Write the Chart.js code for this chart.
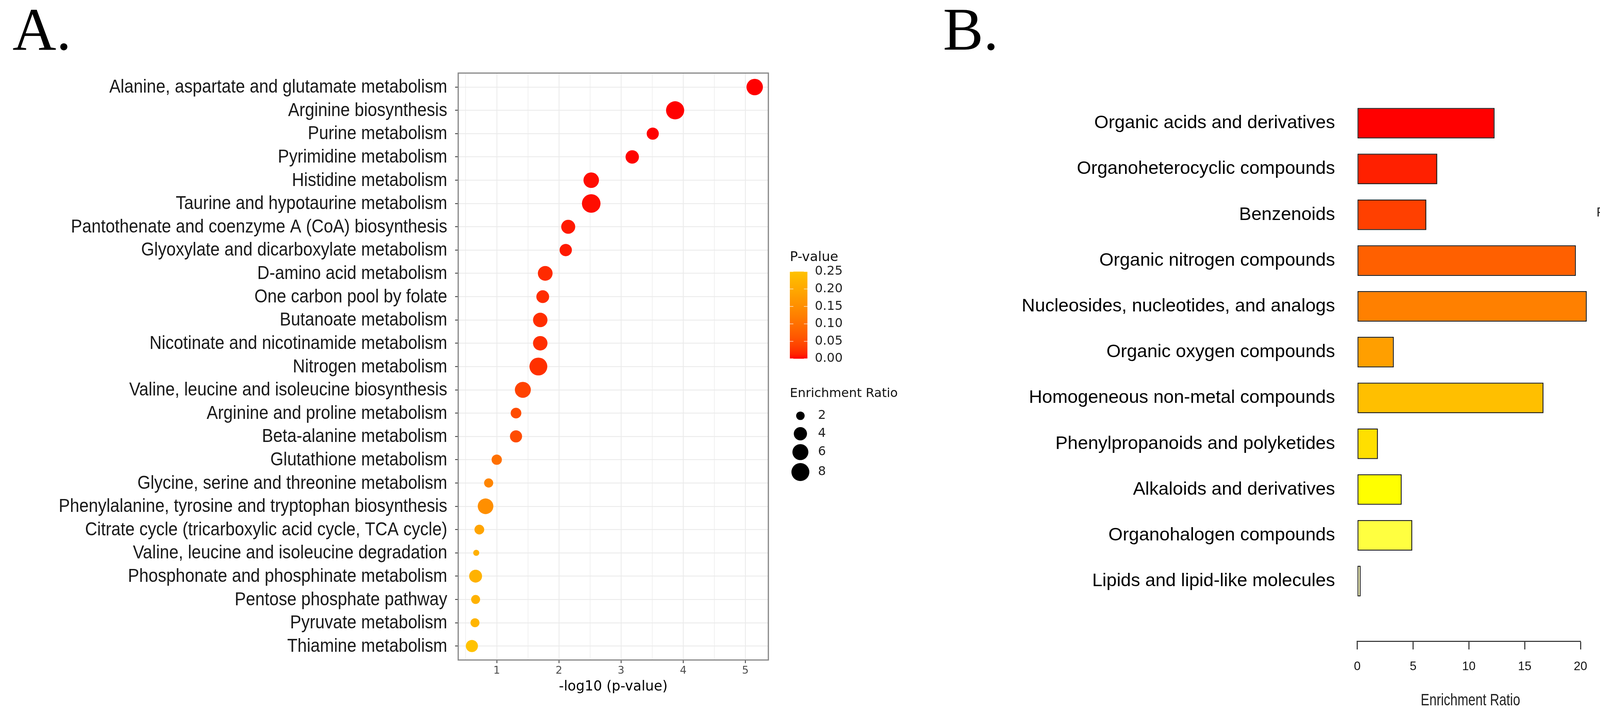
<!DOCTYPE html>
<html>
<head>
<meta charset="utf-8">
<title>Pathway and chemical class enrichment</title>
<script src="https://cdn.jsdelivr.net/npm/chart.js@4.4.1/dist/chart.umd.min.js"></script>
<style>
    body { margin: 0; background: #fff; }
    #wrap { position: relative; width: 4324px; height: 1840px; overflow: hidden; }
    canvas { position: absolute; top: 0; }
    #chartA { left: 0; }
    #chartB { left: 2400px; }
</style>
</head>
<body>
<div id="wrap">
    <canvas id="chartA" width="2400" height="1840"></canvas>
    <canvas id="chartB" width="1924" height="1840"></canvas>
</div>
<script>
// ---- panel A: pathway enrichment (dot plot) ----
const pathways = [
    'Alanine, aspartate and glutamate metabolism',
    'Arginine biosynthesis',
    'Purine metabolism',
    'Pyrimidine metabolism',
    'Histidine metabolism',
    'Taurine and hypotaurine metabolism',
    'Pantothenate and coenzyme A (CoA) biosynthesis',
    'Glyoxylate and dicarboxylate metabolism',
    'D-amino acid metabolism',
    'One carbon pool by folate',
    'Butanoate metabolism',
    'Nicotinate and nicotinamide metabolism',
    'Nitrogen metabolism',
    'Valine, leucine and isoleucine biosynthesis',
    'Arginine and proline metabolism',
    'Beta-alanine metabolism',
    'Glutathione metabolism',
    'Glycine, serine and threonine metabolism',
    'Phenylalanine, tyrosine and tryptophan biosynthesis',
    'Citrate cycle (tricarboxylic acid cycle, TCA cycle)',
    'Valine, leucine and isoleucine degradation',
    'Phosphonate and phosphinate metabolism',
    'Pentose phosphate pathway',
    'Pyruvate metabolism',
    'Thiamine metabolism'
]
const log10p = [5.15, 3.87, 3.51, 3.18, 2.52, 2.52, 2.15, 2.11, 1.78, 1.74, 1.70, 1.70, 1.67,
    1.42, 1.31, 1.31, 1.00, 0.87, 0.82, 0.72, 0.67, 0.66, 0.66, 0.65, 0.60]
const enrichment = [6.4, 8.25, 3.4, 4.1, 5.6, 8.8, 4.5, 3.5, 5.0, 3.75, 4.8, 4.8, 7.9,
    6.0, 2.75, 3.4, 2.6, 2.2, 5.7, 2.4, 1.4, 3.8, 2.15, 2.15, 3.4]
const xGridValues = [0.5, 1, 1.5, 2, 2.5, 3, 3.5, 4, 4.5, 5]
const pLegendTicks = [0.25, 0.20, 0.15, 0.10, 0.05, 0.00]
const sizeLegendValues = [2, 4, 6, 8]

// ---- panel B: chemical class enrichment (bar chart) ----
const classes = [
    'Organic acids and derivatives',
    'Organoheterocyclic compounds',
    'Benzenoids',
    'Organic nitrogen compounds',
    'Nucleosides, nucleotides, and analogs',
    'Organic oxygen compounds',
    'Homogeneous non-metal compounds',
    'Phenylpropanoids and polyketides',
    'Alkaloids and derivatives',
    'Organohalogen compounds',
    'Lipids and lipid-like molecules'
]
const classRatio = [12.3, 7.17, 6.19, 19.59, 20.56, 3.27, 16.69, 1.85, 3.98, 4.93, 0.30]
const heatColors = ['#FF0000', '#FF2000', '#FF4000', '#FF6000', '#FF8000', '#FF9F00',
    '#FFBF00', '#FFDF00', '#FFFF00', '#FFFF40', '#FFFFBF']
const pLabelsB = ['9e-50', '5e-01', '1e+00']
const ratioTicks = [0, 5, 10, 15, 20]

// colour gradient for p-values, interpolated in Lab like ggplot does
function toLab(hex) {
    const c = [1, 3, 5].map(i => parseInt(hex.substr(i, 2), 16) / 255)
        .map(v => v <= 0.04045 ? v / 12.92 : Math.pow((v + 0.055) / 1.055, 2.4))
    const X = (c[0] * 0.4124 + c[1] * 0.3576 + c[2] * 0.1805) / 0.95047
    const Y = c[0] * 0.2126 + c[1] * 0.7152 + c[2] * 0.0722
    const Z = (c[0] * 0.0193 + c[1] * 0.1192 + c[2] * 0.9505) / 1.08883
    const f = t => t > 0.008856 ? Math.cbrt(t) : 7.787 * t + 16 / 116
    return [116 * f(Y) - 16, 500 * (f(X) - f(Y)), 200 * (f(Y) - f(Z))]
}

function fromLab([L, a, b]) {
    const fy = (L + 16) / 116
    const inv = t => t * t * t > 0.008856 ? t * t * t : (t - 16 / 116) / 7.787
    const X = inv(fy + a / 500) * 0.95047
    const Y = inv(fy)
    const Z = inv(fy - b / 200) * 1.08883
    const lin = [
        X * 3.2406 - Y * 1.5372 - Z * 0.4986,
        -X * 0.9689 + Y * 1.8758 + Z * 0.0415,
        X * 0.0557 - Y * 0.2040 + Z * 1.0570
    ]
    const out = lin.map(v => {
        v = Math.min(1, Math.max(0, v))
        return Math.round(255 * (v <= 0.0031308 ? 12.92 * v : 1.055 * Math.pow(v, 1 / 2.4) - 0.055))
    })
    return `rgb(${out[0]}, ${out[1]}, ${out[2]})`
}

const lowLab = toLab('#FF0000')
const highLab = toLab('#FFC200')
const pMax = 0.25

function pColor(p) {
    const t = Math.min(1, Math.max(0, p / pMax))
    return fromLab(lowLab.map((v, i) => v + (highLab[i] - v) * t))
}

// dot diameter follows the size legend (2 -> ~22px, 8 -> ~46px)
const radiusFor = er => (21.7 + 17.5 * Math.log(er / 2)) / 2

const isInt = c => c.tick && Number.isInteger(c.tick.value)

// the original labels are set in a slightly condensed face
function narrowText(ctx, text, x, y, sx) {
    ctx.save()
    ctx.translate(x, y)
    ctx.scale(sx, 1)
    ctx.fillText(text, 0, 0)
    ctx.restore()
}

const panelA = {
    id: 'panelA',
    afterDraw(chart) {
        const { ctx, chartArea, scales } = chart
        ctx.save()
        ctx.strokeStyle = '#858585'
        ctx.lineWidth = 3
        ctx.strokeRect(chartArea.left, chartArea.top, chartArea.right - chartArea.left, chartArea.bottom - chartArea.top)

        // pathway names
        ctx.fillStyle = '#1A1A1A'
        ctx.font = '49px "Liberation Sans"'
        ctx.textAlign = 'right'
        ctx.textBaseline = 'middle'
        pathways.forEach((name, i) => {
            narrowText(ctx, name, chartArea.left - 28, scales.y.getPixelForValue(i) + 1, 0.88)
        })
        ctx.textAlign = 'left'

        ctx.fillStyle = '#000'
        ctx.font = '155px "Liberation Serif"'
        ctx.textBaseline = 'alphabetic'
        ctx.fillText('A.', 32, 127)

        // colour legend
        ctx.font = '34px "DejaVu Sans"'
        ctx.textBaseline = 'middle'
        ctx.fillStyle = '#111'
        ctx.fillText('P-value', 2022, 659)
        const barX = 2022, barW = 45, barTop = 695, barBottom = 918
        const grad = ctx.createLinearGradient(0, barTop, 0, barBottom)
        for (let k = 0; k <= 20; k++) {
            grad.addColorStop(k / 20, pColor(pMax * (1 - k / 20)))
        }
        ctx.fillStyle = grad
        ctx.fillRect(barX, barTop, barW, barBottom - barTop)
        ctx.strokeStyle = 'rgba(255,255,255,0.8)'
        ctx.lineWidth = 1.5
        ctx.font = '32px "DejaVu Sans"'
        pLegendTicks.forEach(v => {
            const y = barBottom - (barBottom - barTop) * v / pMax
            ctx.beginPath()
            ctx.moveTo(barX, y); ctx.lineTo(barX + 9, y)
            ctx.moveTo(barX + barW - 9, y); ctx.lineTo(barX + barW, y)
            ctx.stroke()
            ctx.fillStyle = '#222'
            ctx.fillText(v.toFixed(2), 2086, y)
        })

        // size legend
        ctx.fillStyle = '#111'
        ctx.fillText('Enrichment Ratio', 2022, 1008)
        const sizeY = [1064, 1110, 1157, 1208]
        sizeLegendValues.forEach((v, i) => {
            ctx.fillStyle = '#000'
            ctx.beginPath()
            ctx.arc(2049, sizeY[i], radiusFor(v), 0, Math.PI * 2)
            ctx.fill()
            ctx.fillStyle = '#222'
            ctx.fillText(String(v), 2094, sizeY[i])
        })
        ctx.restore()
    }
}

new Chart(document.getElementById('chartA'), {
    type: 'scatter',
    data: {
        datasets: [{
            data: log10p.map((x, i) => ({ x, y: i })),
            pointRadius: c => radiusFor(enrichment[c.dataIndex]),
            pointHoverRadius: c => radiusFor(enrichment[c.dataIndex]),
            pointBackgroundColor: c => pColor(Math.pow(10, -log10p[c.dataIndex])),
            pointBorderWidth: 0,
            clip: false
        }]
    },
    options: {
        responsive: false,
        animation: false,
        devicePixelRatio: 1,
        events: [],
        layout: { padding: { top: 187, right: 433, left: 0, bottom: 0 } },
        plugins: { legend: { display: false }, tooltip: { enabled: false } },
        scales: {
            x: {
                type: 'linear',
                min: 0.38,
                max: 5.37,
                afterBuildTicks: s => { s.ticks = xGridValues.map(value => ({ value })) },
                afterFit: s => { s.height = 151 },
                border: { display: false },
                grid: {
                    color: '#EBEBEB',
                    lineWidth: c => isInt(c) ? 2.2 : 1.4,
                    tickLength: 8,
                    tickWidth: 2,
                    tickColor: c => isInt(c) ? '#333' : 'rgba(0,0,0,0)'
                },
                ticks: {
                    autoSkip: false,
                    maxRotation: 0,
                    callback: v => Number.isInteger(v) ? String(v) : '',
                    font: { family: 'DejaVu Sans', size: 27 },
                    color: '#4D4D4D',
                    padding: 4
                },
                title: {
                    display: true,
                    text: '-log10 (p-value)',
                    font: { family: 'DejaVu Sans', size: 35 },
                    color: '#000',
                    padding: { top: 0, bottom: 61 }
                }
            },
            y: {
                type: 'linear',
                reverse: true,
                min: -0.6,
                max: 24.6,
                afterBuildTicks: s => { s.ticks = pathways.map((_, i) => ({ value: i })) },
                afterFit: s => { s.width = 1173 },
                border: { display: false },
                grid: { color: '#EBEBEB', lineWidth: 2.2, tickLength: 8, tickWidth: 2, tickColor: '#333' },
                ticks: { autoSkip: false, display: false }
            }
        }
    },
    plugins: [panelA]
})

const panelB = {
    id: 'panelB',
    afterDraw(chart) {
        const { ctx, chartArea } = chart
        ctx.save()
        ctx.fillStyle = '#000'
        ctx.font = '155px "Liberation Serif"'
        ctx.textBaseline = 'alphabetic'
        ctx.fillText('B.', 14, 127)

        // axis title, condensed like the original
        ctx.font = '42px "Liberation Sans"'
        ctx.textBaseline = 'middle'
        ctx.textAlign = 'center'
        ctx.fillStyle = '#222'
        narrowText(ctx, 'Enrichment Ratio', (chartArea.left + chartArea.right) / 2 + 4, 1793, 0.79)

        ctx.font = '33px "Liberation Sans"'
        ctx.fillText('P value', 1742, 545)

        const barX = 1725, barW = 33, barTop = 601.5, barBottom = 1195
        const band = (barBottom - barTop) / heatColors.length
        heatColors.forEach((col, k) => {
            ctx.fillStyle = col
            ctx.fillRect(barX, barTop + k * band, barW, band + 0.5)
        })
        ctx.strokeStyle = '#111'
        ctx.lineWidth = 2.5
        ctx.strokeRect(barX, barTop, barW, barBottom - barTop)

        ctx.textAlign = 'left'
        ctx.fillStyle = '#222'
        pLabelsB.forEach((lab, k) => {
            ctx.fillText(lab, 1798, barTop + k * (barBottom - barTop) / 2 + 2)
        })
        ctx.restore()
    }
}

new Chart(document.getElementById('chartB'), {
    type: 'bar',
    data: {
        datasets: [{
            data: classRatio.map((x, i) => ({ x, y: i })),
            backgroundColor: heatColors,
            borderColor: '#1A1A1A',
            borderWidth: 2.5,
            borderSkipped: false,
            categoryPercentage: 1,
            barPercentage: 0.667,
            clip: false
        }]
    },
    options: {
        indexAxis: 'y',
        responsive: false,
        animation: false,
        devicePixelRatio: 1,
        events: [],
        layout: { padding: { top: 190.7, right: 278, left: 0, bottom: 0 } },
        plugins: { legend: { display: false }, tooltip: { enabled: false } },
        scales: {
            x: {
                type: 'linear',
                min: 0,
                max: 20,
                afterBuildTicks: s => { s.ticks = ratioTicks.map(value => ({ value })) },
                afterFit: s => { s.height = 199 },
                border: { display: true, color: '#222', width: 2.5 },
                grid: { drawOnChartArea: false, drawTicks: true, tickLength: 21, tickWidth: 2.5, tickColor: '#222' },
                ticks: {
                    autoSkip: false,
                    maxRotation: 0,
                    font: { family: 'Liberation Sans', size: 31 },
                    color: '#111',
                    padding: 26
                }
            },
            y: {
                type: 'linear',
                reverse: true,
                min: -0.5,
                max: 10.75,
                afterBuildTicks: s => { s.ticks = classes.map((_, i) => ({ value: i })) },
                afterFit: s => { s.width = 1074.7 },
                border: { display: false },
                grid: { display: false },
                ticks: {
                    autoSkip: false,
                    callback: v => classes[v],
                    font: { family: 'Liberation Sans', size: 47 },
                    color: '#000',
                    padding: 49
                }
            }
        }
    },
    plugins: [panelB]
})
</script>
</body>
</html>
